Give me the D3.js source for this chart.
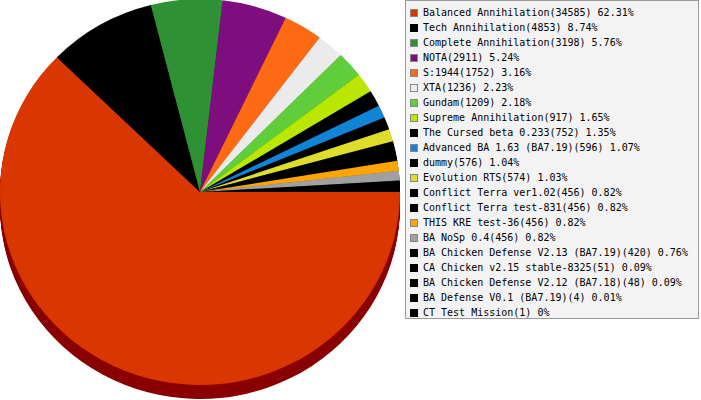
<!DOCTYPE html>
<html>
<head>
<meta charset="utf-8">
<script src="https://cdn.jsdelivr.net/npm/d3@7/dist/d3.min.js"></script>
<style>
  body { margin: 0; background: #fff; }
  svg { display: block; }
</style>
</head>
<body>
<svg id="chart" width="701" height="400"></svg>
<script>
// mod names and game counts, in drawing order
var mods = ["Balanced Annihilation", "Tech Annihilation", "Complete Annihilation", "NOTA",
  "S:1944", "XTA", "Gundam", "Supreme Annihilation", "The Cursed beta 0.233",
  "Advanced BA 1.63 (BA7.19)", "dummy", "Evolution RTS", "Conflict Terra ver1.02",
  "Conflict Terra test-831", "THIS KRE test-36", "BA NoSp 0.4",
  "BA Chicken Defense V2.13 (BA7.19)", "CA Chicken v2.15 stable-8325",
  "BA Chicken Defense V2.12 (BA7.18)", "BA Defense V0.1 (BA7.19)", "CT Test Mission"];
var games = [34585, 4853, 3198, 2911, 1752, 1236, 1209, 917, 752, 596, 576, 574,
  456, 456, 456, 456, 420, 51, 48, 4, 1];
var colors = ["#da3600", "#000000", "#2e9134", "#7e0e7e", "#fd6a13", "#ebebeb",
  "#5fce3a", "#bbe600", "#000000", "#1184d5", "#000000", "#dede2a", "#000000",
  "#000000", "#ffa500", "#a0a0a0", "#000000", "#000000", "#000000", "#000000", "#000000"];

var cx = 200, cy = 192, rx = 200, ry = 193, depth = 14;

var svg = d3.select("#chart");
var total = d3.sum(games);

var data = mods.map(function (m, i) {
  return {name: m, value: games[i], color: colors[i]};
});

// angles run clockwise from 3 o'clock
var pie = d3.pie()
  .sort(null)
  .value(function (d) { return d.value; })
  .startAngle(Math.PI / 2)
  .endAngle(Math.PI / 2 + 2 * Math.PI);

var arc = d3.arc().innerRadius(0).outerRadius(rx);
var slices = pie(data);

// side of the disc: stacked copies shifted down
var side = svg.append("g");
d3.range(depth, 0, -1).forEach(function (dy) {
  side.append("g")
    .attr("transform", "translate(" + cx + "," + (cy + dy) + ") scale(1," + (ry / rx) + ")")
    .selectAll("path")
    .data(slices)
    .enter()
    .append("path")
    .attr("d", arc)
    .attr("fill", function (d) {
      return d.index === 0 ? "#8a0000" : d3.color(d.data.color).darker(1.2);
    });
});

// top face
svg.append("g")
  .attr("transform", "translate(" + cx + "," + cy + ") scale(1," + (ry / rx) + ")")
  .selectAll("path")
  .data(slices)
  .enter()
  .append("path")
  .attr("d", arc)
  .attr("fill", function (d) { return d.data.color; });

// legend
var legend = svg.append("g");
legend.append("rect")
  .attr("x", 405.5)
  .attr("y", 0.5)
  .attr("width", 293)
  .attr("height", 318)
  .attr("fill", "#f3f3f3")
  .attr("stroke", "#9a9a9a");

var rowY = d3.scaleLinear().domain([0, 1]).range([9, 24]);

var rows = legend.selectAll("g.row")
  .data(data)
  .enter()
  .append("g")
  .attr("class", "row")
  .attr("transform", function (d, i) { return "translate(0," + rowY(i) + ")"; });

rows.append("rect")
  .attr("x", 410.5)
  .attr("y", 0.5)
  .attr("width", 7)
  .attr("height", 7)
  .attr("fill", function (d) { return d.color; })
  .attr("stroke", function (d) { return d.color === "#000000" ? "#000" : "#888"; });

rows.append("text")
  .attr("x", 423)
  .attr("y", 7)
  .attr("font-family", "DejaVu Sans Mono, Liberation Mono, monospace")
  .attr("font-size", "10px")
  .attr("fill", "#000")
  .text(function (d) {
    var pct = +(d.value / total * 100).toFixed(2);
    return d.name + "(" + d.value + ") " + pct + "%";
  });
</script>
</body>
</html>
